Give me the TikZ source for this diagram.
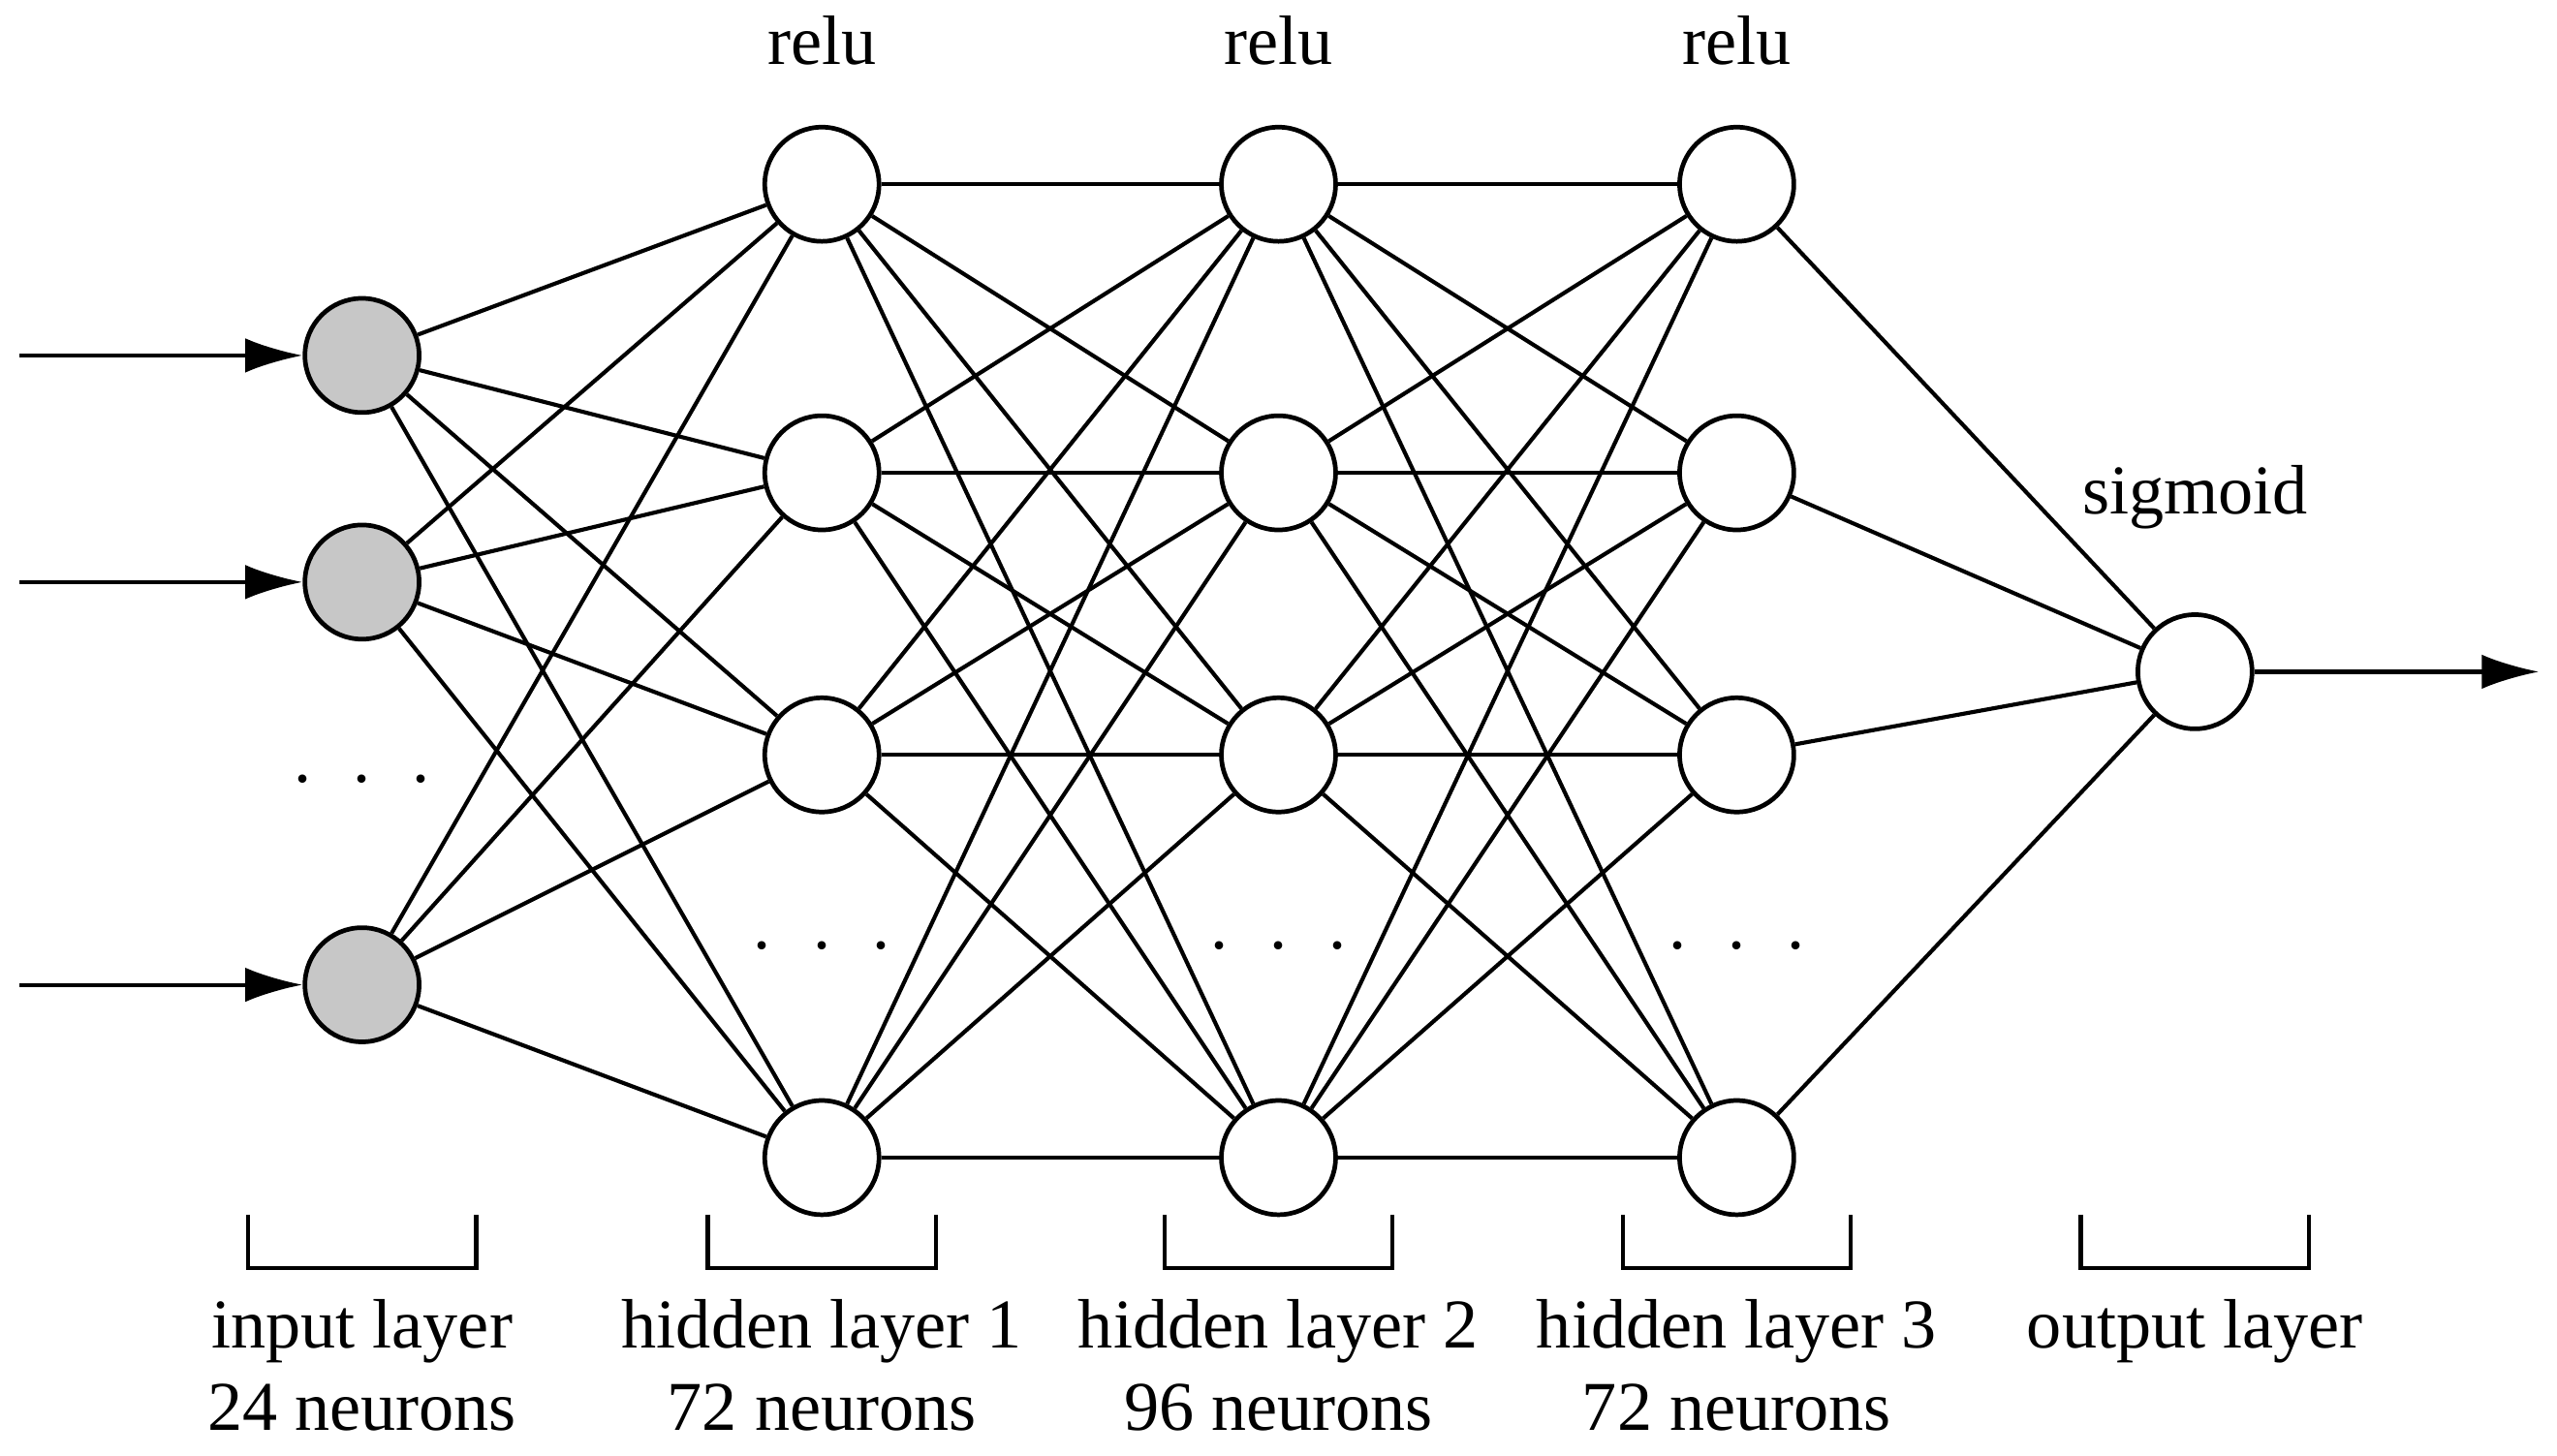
\documentclass[tikz,border=0pt]{standalone}
\usepackage{fontspec}
\setmainfont{Liberation Serif}
\usetikzlibrary{arrows.meta}
\begin{document}
\begin{tikzpicture}[x=0.01cm,y=-0.01cm,
  neuron/.style={circle,draw,line width=0.8pt,minimum size=0.7cm,inner sep=0pt,fill=white},
  inp/.style={neuron,fill=black!22},
  conn/.style={line width=0.7pt},
  arr/.style={conn,-{Latex[length=10pt,width=6pt]}},
  lbl/.style={font=\fontsize{12.2}{14.5}\selectfont,align=center},
  brk/.style={line width=0.7pt}]
\useasboundingbox (0,0) rectangle (1568,893);
\foreach \i/\y in {1/218,2/357,3/604} \node[inp] (i\i) at (222,\y) {};
\foreach \l/\x in {a/504,b/784,c/1065}
  \foreach \j/\y in {1/113,2/290,3/463,4/710} \node[neuron] (\l\j) at (\x,\y) {};
\node[neuron] (o) at (1346,412) {};
\foreach \i in {1,2,3} \foreach \j in {1,2,3,4} \draw[conn] (i\i) -- (a\j);
\foreach \i in {1,2,3,4} \foreach \j in {1,2,3,4} {\draw[conn] (a\i) -- (b\j); \draw[conn] (b\i) -- (c\j);}
\foreach \i in {1,2,3,4} \draw[conn] (c\i) -- (o);
\foreach \i/\y in {1/218,2/357,3/604} {\coordinate (s\i) at (12,\y); \draw[arr] (s\i) -- (i\i);}
\coordinate (e) at (1557,412);
\draw[arr] (o) -- (e);
\node[lbl] (d0) at (222,478) {.\hspace{0.6em}.\hspace{0.6em}.};
\node[lbl] (d1) at (504,580) {.\hspace{0.6em}.\hspace{0.6em}.};
\node[lbl] (d2) at (784,580) {.\hspace{0.6em}.\hspace{0.6em}.};
\node[lbl] (d3) at (1065,580) {.\hspace{0.6em}.\hspace{0.6em}.};
\node[lbl] (r1) at (504,25) {relu};
\node[lbl] (r2) at (784,25) {relu};
\node[lbl] (r3) at (1065,25) {relu};
\node[lbl] (sg) at (1346,305) {sigmoid};
\foreach \x/\a/\b/\n in {222/input layer/24 neurons/L0,504/hidden layer 1/72 neurons/L1,784/hidden layer 2/96 neurons/L2,1065/hidden layer 3/72 neurons/L3,1346/output layer//L4} {
  \draw[brk] (\x-70,745) -- (\x-70,778) -- (\x+70,778) -- (\x+70,745);
  \node[lbl,anchor=base] (\n a) at (\x,827) {\a};
  \node[lbl,anchor=base] (\n b) at (\x,877) {\b};
}
\end{tikzpicture}
\end{document}
